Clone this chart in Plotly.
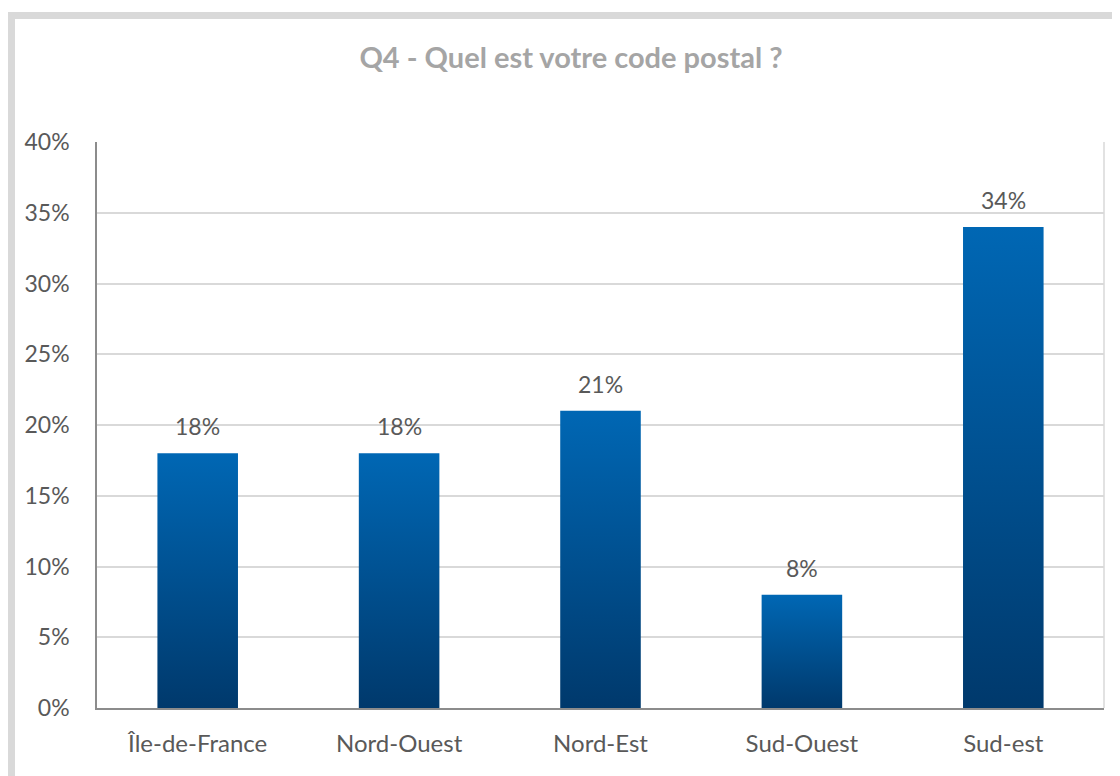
import plotly.graph_objects as go

categories = ["Île-de-France", "Nord-Ouest", "Nord-Est", "Sud-Ouest", "Sud-est"]
values = [0.18, 0.18, 0.21, 0.08, 0.34]
labels = ["18%", "18%", "21%", "8%", "34%"]
title = "Q4 - Quel est votre code postal ?"

FONT = "Lato"
TXT = "#595959"
half = 0.2  # bar half width, in category units

fig = go.Figure()

# each bar is a filled box so it can carry the excel-like vertical gradient
for i, v in enumerate(values):
    fig.add_trace(go.Scatter(
        x=[i - half, i + half, i + half, i - half, i - half],
        y=[0, 0, v, v, 0],
        mode="none",
        fill="toself",
        fillgradient=dict(type="vertical",
                          colorscale=[[0, "#00396C"], [1, "#0067B4"]]),
        hoverinfo="skip",
        showlegend=False,
    ))

for i, v in enumerate(values):
    fig.add_annotation(x=i, y=v, text=labels[i], showarrow=False,
                       yshift=27, font=dict(family=FONT, size=23, color=TXT))

# gray frame around the chart area
fig.add_shape(type="rect", xref="paper", yref="paper",
              x0=-0.0849, x1=1.03, y0=-0.16, y1=1.2235,
              line=dict(color="#d9d9d9", width=7), layer="below")

# page body adds an 8px offset, margins are compensated for it
fig.update_layout(
    width=1120, height=776,
    margin=dict(l=89, r=24, t=134, b=76),
    paper_bgcolor="white", plot_bgcolor="white",
    title=dict(text="<b>" + title + "</b>", x=0.5027, xref="container", xanchor="center",
               y=1 - 50 / 776, yref="container", yanchor="middle",
               font=dict(family=FONT, size=29, color="#a5a5a5")),
    font=dict(family=FONT, size=23, color=TXT),
    showlegend=False,
)

fig.update_xaxes(
    range=[-0.5, 4.5], tickvals=list(range(len(categories))), ticktext=categories,
    showgrid=False, zeroline=False, showline=True, linecolor="#8c8c8c", linewidth=1.5,
    ticks="", ticklabelstandoff=13, tickfont=dict(family=FONT, size=24, color=TXT),
    fixedrange=True,
)
fig.update_yaxes(
    range=[0, 0.4], dtick=0.05, tickformat=".0%",
    showgrid=True, gridcolor="#d9d9d9", gridwidth=1.5, zeroline=False,
    showline=True, linecolor="#8c8c8c", linewidth=1.5,
    ticks="", ticklabelstandoff=21, tickfont=dict(family=FONT, size=23, color=TXT),
    fixedrange=True,
)
# right border of plot area
fig.add_shape(type="line", xref="paper", yref="paper", x0=1, x1=1, y0=0, y1=1,
              line=dict(color="#d9d9d9", width=1.5))

fig.write_html("out.html")
